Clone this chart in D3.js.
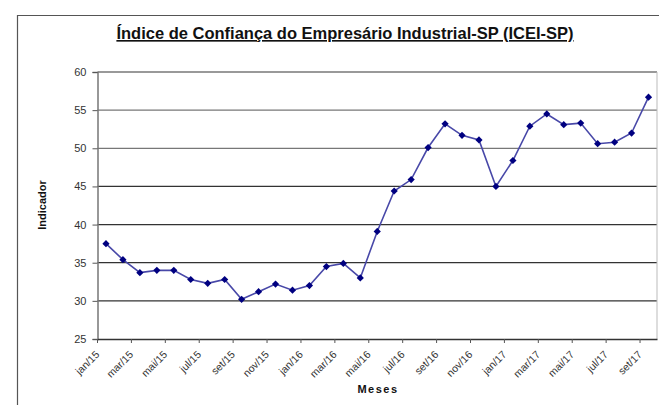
<!DOCTYPE html>
<html>
<head>
<meta charset="utf-8">
<script src="https://cdn.jsdelivr.net/npm/d3@7"></script>
<style>
	body { margin: 0; background: #fff; }
	svg { display: block; font-family: "Liberation Sans", Arial, sans-serif; }
	.yaxis text { font-size: 11px; fill: #333; }
	.xaxis text { font-size: 10.5px; fill: #333; }
</style>
</head>
<body>
<div id="chart"></div>
<script>
var months = ["jan/15", "fev/15", "mar/15", "abr/15", "mai/15", "jun/15", "jul/15", "ago/15", "set/15", "out/15", "nov/15", "dez/15",
	"jan/16", "fev/16", "mar/16", "abr/16", "mai/16", "jun/16", "jul/16", "ago/16", "set/16", "out/16", "nov/16", "dez/16",
	"jan/17", "fev/17", "mar/17", "abr/17", "mai/17", "jun/17", "jul/17", "ago/17", "set/17"];
var icei = [37.5, 35.4, 33.7, 34.0, 34.0, 32.8, 32.3, 32.8, 30.2, 31.2, 32.2, 31.4,
	32.0, 34.5, 34.9, 33.0, 39.1, 44.4, 45.9, 50.1, 53.2, 51.7, 51.1, 45.0,
	48.4, 52.9, 54.5, 53.1, 53.3, 50.6, 50.8, 52.0, 56.7];
var yTicks = [25, 30, 35, 40, 45, 50, 55, 60];

var width = 659;
var height = 405;
var plot = {left: 97.5, right: 657, top: 72, bottom: 339};

var svg = d3.select("#chart").append("svg")
	.attr("width", width)
	.attr("height", height);

// outer frame of the chart (cut by the picture on right and bottom)
svg.append("path")
	.attr("d", "M17.5,405 L17.5,15.5 L659,15.5")
	.attr("fill", "none")
	.attr("stroke", "#555")
	.attr("stroke-width", 1.2);

svg.append("text")
	.attr("x", 345)
	.attr("y", 39)
	.attr("text-anchor", "middle")
	.style("font-size", "16.5px")
	.style("font-weight", "bold")
	.style("text-decoration", "underline")
	.style("fill", "#111")
	.text("Índice de Confiança do Empresário Industrial-SP (ICEI-SP)");

/* Scales */
var xScale = d3.scaleBand()
	.domain(months)
	.range([plot.left, plot.right]);

var yScale = d3.scaleLinear()
	.domain([25, 60])
	.range([plot.bottom, plot.top]);

// gridlines
svg.append("g")
	.selectAll("line")
	.data(yTicks.slice(1)).enter()
	.append("line")
	.attr("x1", plot.left)
	.attr("x2", plot.right)
	.attr("y1", d => yScale(d))
	.attr("y2", d => yScale(d))
	.attr("stroke", d => d >= 50 ? "#777" : "#333")
	.attr("stroke-width", 1.3);

// right border of the plot area
svg.append("line")
	.attr("x1", plot.right).attr("x2", plot.right)
	.attr("y1", plot.top).attr("y2", plot.bottom)
	.attr("stroke", "#bbb");

/* Axes */
var yAxis = d3.axisLeft(yScale).tickValues(yTicks).tickSize(5).tickPadding(6);
svg.append("g")
	.attr("class", "yaxis")
	.attr("transform", `translate(${plot.left}, 0)`)
	.call(yAxis)
	.call(g => g.select(".domain").attr("stroke", "#777").attr("stroke-width", 1.5))
	.call(g => g.selectAll(".tick line").attr("stroke", "#555"));

var xAxis = d3.axisBottom(xScale)
	.tickValues(months.filter((m, i) => i % 2 == 0))
	.tickSize(0)
	.tickSizeOuter(0);

var gx = svg.append("g")
	.attr("class", "xaxis")
	.attr("transform", `translate(0, ${plot.bottom})`)
	.call(xAxis);
gx.select(".domain").attr("stroke", "#333").attr("stroke-width", 1.5);
gx.selectAll(".tick text")
	.attr("text-anchor", "end")
	.attr("dy", 0)
	.attr("transform", "translate(-8, 14) rotate(-45)");

// small tick marks at category boundaries
svg.append("g")
	.selectAll("line")
	.data(months.filter((m, i) => i % 2 == 0)).enter()
	.append("line")
	.attr("x1", d => xScale(d))
	.attr("x2", d => xScale(d))
	.attr("y1", plot.bottom)
	.attr("y2", plot.bottom + 4)
	.attr("stroke", "#555");

svg.append("text")
	.attr("transform", "translate(46, 205) rotate(-90)")
	.attr("text-anchor", "middle")
	.style("font-size", "11px")
	.style("font-weight", "bold")
	.style("fill", "#111")
	.text("Indicador");

svg.append("text")
	.attr("x", 378)
	.attr("y", 393)
	.attr("text-anchor", "middle")
	.style("font-size", "11px")
	.style("font-weight", "bold")
	.style("letter-spacing", "1.5px")
	.style("fill", "#111")
	.text("Meses");

/* Line and markers */
var line = d3.line()
	.x((d, i) => xScale(months[i]) + xScale.bandwidth() / 2)
	.y(d => yScale(d));

svg.append("path")
	.datum(icei)
	.attr("d", line)
	.attr("fill", "none")
	.attr("stroke", "#4848a8")
	.attr("stroke-width", 1.6);

// square symbol turned 45 degrees gives the Excel style diamond
var diamond = d3.symbol().type(d3.symbolSquare).size(26);
svg.append("g")
	.selectAll("path")
	.data(icei).enter()
	.append("path")
	.attr("d", diamond)
	.attr("transform", (d, i) => `translate(${xScale(months[i]) + xScale.bandwidth() / 2}, ${yScale(d)}) rotate(45)`)
	.attr("fill", "#000080");
</script>
</body>
</html>
